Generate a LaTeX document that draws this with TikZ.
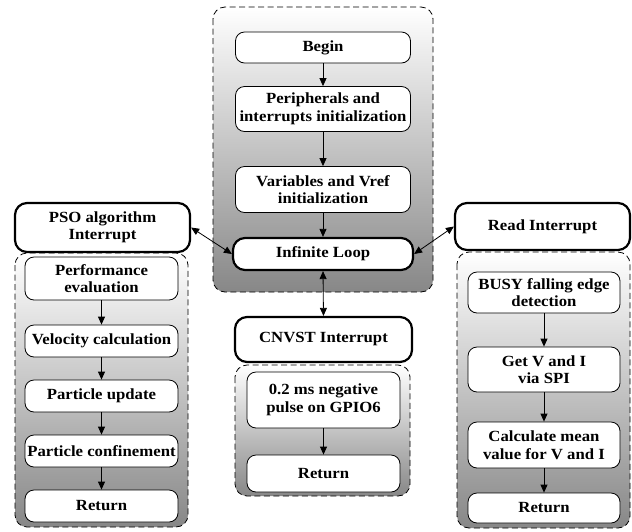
\documentclass[tikz,border=0pt]{standalone}
\usepackage{fontspec}
\setmainfont[FakeStretch=1.08]{Liberation Serif}
\usetikzlibrary{arrows.meta}
\begin{document}
\begin{tikzpicture}
	[x=1pt,y=-1pt,
	 task/.style={draw,line width=0.8pt,rounded corners=9pt,fill=white,align=center,
		inner sep=0pt,minimum width=#1,font=\bfseries\fontsize{15.5}{17.5}\selectfont},
	 task/.default=153pt,
	 isr/.style={task=#1,line width=2.2pt,rounded corners=12pt},
	 isr/.default=175pt,
	 panel/.style={draw,line width=0.8pt,dash pattern=on 6pt off 3.5pt,
		rounded corners=12pt,top color=white,bottom color=black!47},
	 flow/.style={line width=0.8pt,-{Triangle[length=8pt,width=7pt]}},
	 both/.style={line width=0.8pt,{Triangle[length=8pt,width=7pt]}-{Triangle[length=8pt,width=7pt]}}]
	\useasboundingbox (0,0) rectangle (632,531);
	% panels
	\draw[panel] (213,7) rectangle (433,292);
	\draw[panel] (15,253) rectangle (188,527);
	\draw[panel] (235,365) rectangle (410,496);
	\draw[panel] (457,252) rectangle (630,528);
	% main program
	\node[task=175pt,minimum height=31pt] (begin) at (323,47.5) {Begin};
	\node[task=175pt,minimum height=45pt] (periph) at (323,109) {Peripherals and\\interrupts initialization};
	\node[task=175pt,minimum height=46pt] (vars) at (323,189.5) {Variables and Vref\\initialization};
	\node[isr=180pt,minimum height=32pt] (loop) at (323,254) {Infinite Loop};
	% PSO interrupt
	\node[isr,minimum height=49pt] (pso) at (102.5,227.5) {PSO algorithm\\Interrupt};
	\node[task,minimum height=43pt] (perf) at (101.5,278.5) {Performance\\evaluation};
	\node[task,minimum height=32pt] (vel) at (101.5,341) {Velocity calculation};
	\node[task,minimum height=32pt] (upd) at (101.5,396) {Particle update};
	\node[task,minimum height=32pt] (conf) at (101.5,451) {Particle confinement};
	\node[task,minimum height=32pt] (retL) at (101.5,506) {Return};
	% CNVST interrupt
	\node[isr=177pt,minimum height=45pt] (cnvst) at (323.5,339.5) {CNVST Interrupt};
	\node[task,minimum height=56pt] (pulse) at (323.5,400) {0.2 ms negative\\pulse on GPIO6};
	\node[task,minimum height=37pt] (retC) at (323.5,473.5) {Return};
	% read interrupt
	\node[isr,minimum height=47pt] (read) at (542.5,226.5) {Read Interrupt};
	\node[task=152pt,minimum height=41pt] (busy) at (544,292.5) {BUSY falling edge\\detection};
	\node[task=152pt,minimum height=45pt] (getvi) at (544,369.5) {Get V and I\\via SPI};
	\node[task=152pt,minimum height=46pt] (mean) at (544,445) {Calculate mean\\value for V and I};
	\node[task=152pt,minimum height=30pt] (retR) at (544,508) {Return};
	% connectors
	\draw[flow] (begin) -- (periph);
	\draw[flow] (periph) -- (vars);
	\draw[flow] (vars) -- (loop);
	\draw[flow] (perf) -- (vel);
	\draw[flow] (vel) -- (upd);
	\draw[flow] (upd) -- (conf);
	\draw[flow] (conf) -- (retL);
	\draw[flow] (pulse) -- (retC);
	\draw[flow] (busy) -- (getvi);
	\draw[flow] (getvi) -- (mean);
	\draw[flow] (mean) -- (retR);
	\draw[both] (pso.east) -- (loop.west);
	\draw[both] (loop.east) -- (read.west);
	\draw[both] (loop.south) -- (cnvst.north);
\end{tikzpicture}
\end{document}
